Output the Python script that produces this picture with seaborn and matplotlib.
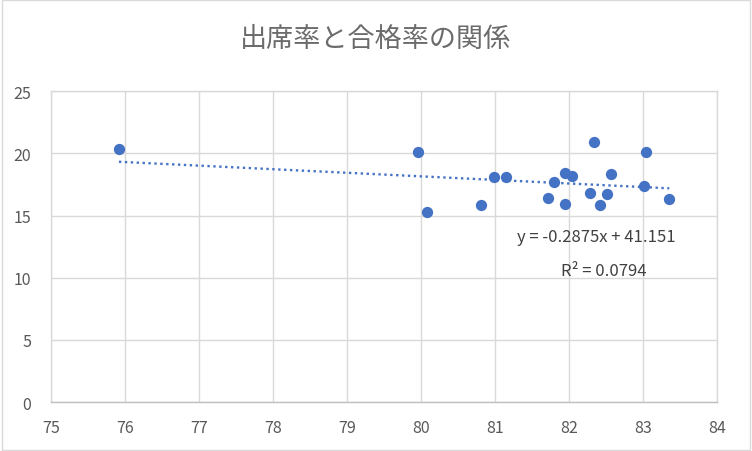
import numpy as np
import pandas as pd
import matplotlib
matplotlib.use("Agg")
import matplotlib.pyplot as plt
import seaborn as sns
from matplotlib.patches import Rectangle

# data
attendance = [75.92, 79.96, 80.08, 80.81, 80.99, 81.15, 81.71, 81.80, 81.94, 82.03,
              81.94, 82.34, 82.28, 82.41, 82.51, 82.57, 83.03, 83.01, 83.35]
pass_rate = [20.34, 20.12, 15.30, 15.84, 18.11, 18.11, 16.40, 17.71, 18.46, 18.19,
             15.92, 20.93, 16.83, 15.84, 16.72, 18.35, 20.07, 17.34, 16.34]
slope = -0.2875
intercept = 41.151
r_squared = 0.0794
x_ticks = [75, 76, 77, 78, 79, 80, 81, 82, 83, 84]
y_ticks = [0, 5, 10, 15, 20, 25]
title = "出席率と合格率の関係"

sns.set_theme(style="white")
plt.rcParams['font.family'] = ['Noto Sans CJK JP', 'DejaVu Sans']

df = pd.DataFrame({"出席率": attendance, "合格率": pass_rate})

fig = plt.figure(figsize=(7.52, 4.52), dpi=100)
ax = fig.add_axes([0.0676, 0.1084, 0.954 - 0.0676, 0.796 - 0.1084])

grid_c = "#d9d9d9"
blue = "#4472C4"

sns.scatterplot(data=df, x="出席率", y="合格率", ax=ax, color=blue, s=66,
                linewidth=0, zorder=3)

xs = np.array([min(attendance), max(attendance)])
line_df = pd.DataFrame({"x": xs, "y": slope * xs + intercept})
sns.lineplot(data=line_df, x="x", y="y", ax=ax, color=blue, linewidth=1.7,
             dashes=False, zorder=2)
ax.lines[-1].set_dashes((1, 1.5))

ax.set_xlim(75, 84)
ax.set_ylim(0, 25)
ax.set_xticks(x_ticks)
ax.set_yticks(y_ticks)
ax.set_xlabel("")
ax.set_ylabel("")
ax.grid(True, color=grid_c, linewidth=1.0)
ax.set_axisbelow(True)
for s in ax.spines.values():
    s.set_color(grid_c)
    s.set_linewidth(1.0)
ax.spines['bottom'].set_color("#bfbfbf")
ax.tick_params(axis='both', length=0, labelsize=11.5, colors="#595959")
ax.tick_params(axis='x', pad=12)
ax.tick_params(axis='y', pad=14)

fig.text(0.5, 0.912, title, ha="center", va="center",
         fontsize=19.5, color="#6b6b6b")

fig.text(596 / 752, 1 - 238 / 452, f"y = {slope}x + {intercept}", ha="center",
         va="center", fontsize=12, color="#404040")
fig.text(604 / 752, 1 - 272 / 452, f"R² = {r_squared}", ha="center",
         va="center", fontsize=12, color="#404040")

fig.patches.append(Rectangle((0.002, 0.002), 0.996, 0.996, transform=fig.transFigure,
                             fill=False, edgecolor=grid_c, linewidth=1.0))

fig.savefig("out.png", dpi=100, facecolor="white")
